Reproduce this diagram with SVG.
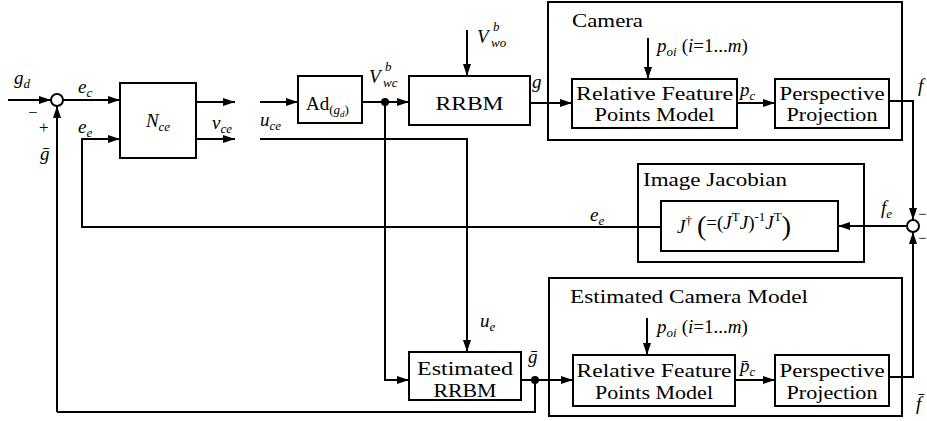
<svg xmlns="http://www.w3.org/2000/svg" width="927" height="421" viewBox="0 0 927 421" font-family="Liberation Serif, Times New Roman, serif">
<defs>
<marker id="ah" markerUnits="userSpaceOnUse" markerWidth="12" markerHeight="8" refX="12" refY="4" orient="auto">
<path d="M0,0 L12,4 L0,8 z" fill="#000"/>
</marker>
<style>
.bx{fill:#fff;stroke:#000;stroke-width:2}
.fr{fill:none;stroke:#000;stroke-width:2}
.ln{fill:none;stroke:#000;stroke-width:2}
.ar{fill:none;stroke:#000;stroke-width:2;marker-end:url(#ah)}
text{font-size:19px;fill:#000}
.m{font-style:italic}
.s{font-size:13px}
.c{text-anchor:middle}
</style>
</defs>

<g id="connectors">
<line class="ar" x1="8" y1="100" x2="51" y2="100"/>
<line class="ar" x1="63" y1="100" x2="120" y2="100"/>
<polyline class="ar" points="57,412 57,106"/>
<polyline class="ln" points="57,412 535,412 535,380"/>
<polyline class="ar" points="661,227 82,227 82,139 120,139"/>
<line class="ar" x1="196" y1="102" x2="235" y2="102"/>
<line class="ar" x1="196" y1="139" x2="235" y2="139"/>
<line class="ar" x1="260" y1="102" x2="298" y2="102"/>
<polyline class="ar" points="260,139 467,139 467,352"/>
<line class="ar" x1="362" y1="102" x2="409" y2="102"/>
<polyline class="ar" points="385,102 385,380 409,380"/>
<circle cx="385" cy="102" r="4" fill="#000"/>
<line class="ar" x1="467" y1="30" x2="467" y2="76"/>
<line class="ar" x1="530" y1="103" x2="572" y2="103"/>
<line class="ar" x1="648" y1="38" x2="648" y2="79"/>
<line class="ar" x1="737" y1="103" x2="775" y2="103"/>
<polyline class="ar" points="889,101 913,101 913,220"/>
<polyline class="ar" points="889,377 913,377 913,232"/>
<line class="ar" x1="907" y1="226" x2="838" y2="226"/>
<line class="ar" x1="521" y1="380" x2="573" y2="380"/>
<circle cx="535" cy="380" r="4" fill="#000"/>
<line class="ar" x1="647" y1="318" x2="647" y2="355"/>
<line class="ar" x1="735" y1="380" x2="775" y2="380"/>
</g>

<g id="sum1">
<circle cx="57" cy="100" r="6" fill="#fff" stroke="#000" stroke-width="2"/>
<text x="28" y="118" style="font-size:17px">−</text>
<text x="39" y="133" style="font-size:17px">+</text>
</g>
<g id="sum2">
<circle cx="913" cy="226" r="6" fill="#fff" stroke="#000" stroke-width="2"/>
<text x="918" y="219" style="font-size:15px">−</text>
<text x="918" y="243" style="font-size:15px">−</text>
</g>

<g id="Nce">
<rect class="bx" x="120" y="83" width="76" height="75"/>
<text class="m c" x="158" y="127">N<tspan class="s" dy="4">ce</tspan></text>
</g>
<g id="Ad">
<rect class="bx" x="298" y="76" width="64" height="47"/>
<text x="306" y="110">Ad<tspan class="s" dy="4">(</tspan><tspan class="s m">g</tspan><tspan class="m" style="font-size:9px" dy="3">d</tspan><tspan class="s" dy="-3">)</tspan></text>
</g>
<g id="RRBM">
<rect class="bx" x="409" y="76" width="121" height="49"/>
<text class="c" x="469.5" y="110" textLength="68" lengthAdjust="spacingAndGlyphs">RRBM</text>
</g>
<g id="Camera">
<rect class="fr" x="548" y="2" width="354" height="138"/>
<text x="572" y="27" textLength="71" lengthAdjust="spacingAndGlyphs">Camera</text>
<rect class="bx" x="572" y="79" width="165" height="49"/>
<text class="c" x="654.5" y="100" textLength="157" lengthAdjust="spacingAndGlyphs">Relative Feature</text>
<text class="c" x="654.5" y="121" textLength="120" lengthAdjust="spacingAndGlyphs">Points Model</text>
<rect class="bx" x="775" y="79" width="114" height="49"/>
<text class="c" x="832" y="100" textLength="105" lengthAdjust="spacingAndGlyphs">Perspective</text>
<text class="c" x="832" y="121" textLength="91" lengthAdjust="spacingAndGlyphs">Projection</text>
</g>
<g id="ImageJacobian">
<rect class="fr" x="638" y="164" width="226" height="98"/>
<text x="643" y="186" textLength="144" lengthAdjust="spacingAndGlyphs">Image Jacobian</text>
<rect class="bx" x="661" y="201" width="177" height="50"/>
<text class="m" x="677" y="233">J<tspan class="s" style="font-style:normal" dy="-8">†</tspan><tspan style="font-style:normal;font-size:28px" dy="10" dx="5">(</tspan><tspan style="font-style:normal" dy="-6">=(</tspan>J<tspan class="s" style="font-style:normal" dy="-8">T</tspan><tspan dy="8">J</tspan><tspan style="font-style:normal">)</tspan><tspan class="s" style="font-style:normal" dy="-8">-1</tspan><tspan dy="8">J</tspan><tspan class="s" style="font-style:normal" dy="-8">T</tspan><tspan style="font-style:normal;font-size:28px" dy="14">)</tspan></text>
</g>
<g id="EstRRBM">
<rect class="bx" x="409" y="352" width="112" height="48"/>
<text class="c" x="465" y="375" textLength="96" lengthAdjust="spacingAndGlyphs">Estimated</text>
<text class="c" x="465" y="397" textLength="63" lengthAdjust="spacingAndGlyphs">RRBM</text>
</g>
<g id="EstCamera">
<rect class="fr" x="549" y="278" width="353" height="138"/>
<text x="570" y="303" textLength="238" lengthAdjust="spacingAndGlyphs">Estimated Camera Model</text>
<rect class="bx" x="573" y="355" width="162" height="51"/>
<text class="c" x="654" y="377" textLength="155" lengthAdjust="spacingAndGlyphs">Relative Feature</text>
<text class="c" x="654" y="399" textLength="118" lengthAdjust="spacingAndGlyphs">Points Model</text>
<rect class="bx" x="775" y="355" width="114" height="51"/>
<text class="c" x="832" y="377" textLength="105" lengthAdjust="spacingAndGlyphs">Perspective</text>
<text class="c" x="832" y="399" textLength="91" lengthAdjust="spacingAndGlyphs">Projection</text>
</g>

<g id="labels">
<text class="m" x="14" y="84">g<tspan class="s" dy="4">d</tspan></text>
<text class="m" x="78" y="93">e<tspan class="s" dy="4">c</tspan></text>
<text class="m" x="78" y="133">e<tspan class="s" dy="4">e</tspan></text>
<text class="m" x="40" y="160">ḡ</text>
<text class="m" x="212" y="129">ν<tspan class="s" dy="4">ce</tspan></text>
<text class="m" x="260" y="126">u<tspan class="s" dy="4">ce</tspan></text>
<text class="m" x="369" y="83">V</text><text class="m s" x="385" y="71">b</text><text class="m s" x="383" y="87">wc</text>
<text class="m" x="477" y="43">V</text><text class="m s" x="493" y="31">b</text><text class="m s" x="491" y="47">wo</text>
<text class="m" x="532" y="88">g</text>
<text class="m" x="657" y="52">p<tspan class="s" dy="4">oi</tspan><tspan style="font-style:normal" dy="-4" dx="5">(</tspan>i<tspan style="font-style:normal">=1...</tspan>m<tspan style="font-style:normal">)</tspan></text>
<text class="m" x="740" y="96">p<tspan class="s" dy="4">c</tspan></text>
<text class="m" x="918" y="92">f</text>
<text class="m" x="590" y="221">e<tspan class="s" dy="4">e</tspan></text>
<text class="m" x="881" y="214">f<tspan class="s" dy="4">e</tspan></text>
<text class="m" x="480" y="327">u<tspan class="s" dy="4">e</tspan></text>
<text class="m" x="528" y="363">ḡ</text>
<text class="m" x="657" y="333">p<tspan class="s" dy="4">oi</tspan><tspan style="font-style:normal" dy="-4" dx="5">(</tspan>i<tspan style="font-style:normal">=1...</tspan>m<tspan style="font-style:normal">)</tspan></text>
<text class="m" x="740" y="372">p̄<tspan class="s" dy="4">c</tspan></text>
<text class="m" x="916" y="410">f̄</text>
</g>
</svg>
